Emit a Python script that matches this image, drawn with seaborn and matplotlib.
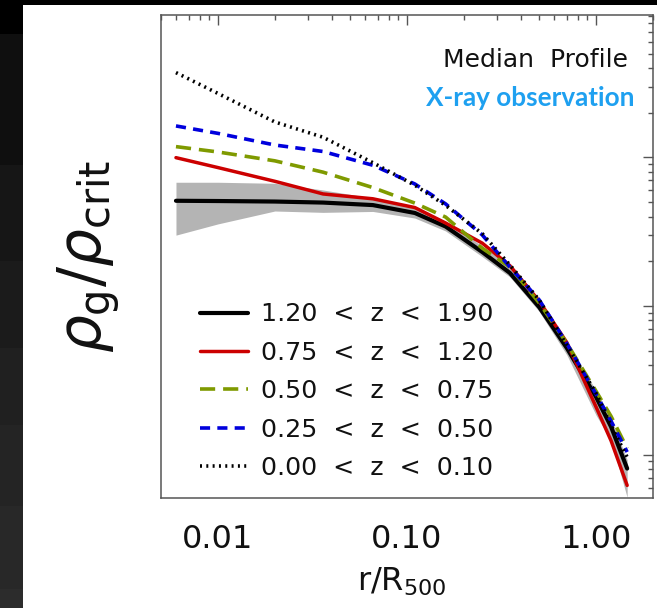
import matplotlib
matplotlib.use("Agg")
import matplotlib.pyplot as plt
import matplotlib.ticker as mticker
from matplotlib.lines import Line2D
from matplotlib.patches import Rectangle
import seaborn as sns

# radius in units of R500
r_r500 = [0.006, 0.01, 0.02, 0.036, 0.066, 0.11, 0.16, 0.25, 0.35, 0.5, 0.7, 1.0, 1.2, 1.46]

# median gas density profiles (rho_g / rho_crit) per redshift bin
rho_z120_190 = [511, 509, 505, 497, 478, 423, 343, 231, 167, 98.3, 52.2, 24.4, 15.4, 8.05]
rho_z075_120 = [997, 855, 691, 568, 527, 460, 362, 265, 187, 108, 56.9, 20.9, 12.4, 6.2]
rho_z050_075 = [1183, 1089, 949, 796, 627, 493, 397, 245, 183, 105, 56.2, 26.7, 18.1, 11.0]
rho_z025_050 = [1630, 1453, 1213, 1097, 886, 663, 487, 301, 183, 110, 56, 25.5, 16.8, 10.4]
rho_z000_010 = [3726, 2698, 1734, 1368, 922, 650, 476, 307, 189, 110, 54.6, 25.9, 15.7, 9.6]

# scatter band around the highest-z profile
band_low = [300, 357, 436, 427, 433, 391, 320, 215, 157, 92, 46.9, 18.4, 12.5, 5.15]
band_high = [681, 681, 670, 604, 533, 457, 373, 253, 186, 110, 57, 27, 17.6, 9.2]

labels = [
	"1.20  <  z  <  1.90",
	"0.75  <  z  <  1.20",
	"0.50  <  z  <  0.75",
	"0.25  <  z  <  0.50",
	"0.00  <  z  <  0.10",
]
series = [rho_z120_190, rho_z075_120, rho_z050_075, rho_z025_050, rho_z000_010]
colors = ["#000000", "#cc0000", "#7f9a00", "#0000dd", "#000000"]
styles = ["-", "-", (0, (4.2, 2.2)), (0, (2.8, 2.0)), (0, (0.55, 1.2))]
widths = [3.0, 2.5, 2.6, 2.6, 2.6]

W, H = 657, 608

sns.set_theme(style="white")
plt.rcParams["font.family"] = ["DejaVu Sans"]
plt.rcParams["mathtext.default"] = "regular"

fig = plt.figure(figsize=(W / 100, H / 100), dpi=100)
fig.patch.set_facecolor("white")

# slide background: dark strip on the left and a thin band on top
strip = [(0, 34, "#000000"), (34, 165, "#0f0f0f"), (165, 261, "#161616"), (261, 348, "#1b1b1b"),
	(348, 425, "#202020"), (425, 506, "#242424"), (506, 589, "#282828"), (589, 608, "#2c2c2c")]
for y0, y1, c in strip:
	fig.add_artist(Rectangle((0, 1 - y1 / H), 23 / W, (y1 - y0) / H, transform=fig.transFigure,
		facecolor=c, edgecolor="none", zorder=0))
fig.add_artist(Rectangle((0, 1 - 5 / H), 1, 5 / H, transform=fig.transFigure,
	facecolor="#000000", edgecolor="none", zorder=0))

ax = fig.add_axes([161 / W, 1 - 498 / H, 492 / W, 483 / H])
ax.set_facecolor("white")

ax.fill_between(r_r500, band_low, band_high, color="#b4b4b4", linewidth=0, zorder=1)

for vals, c, ls, lw in zip(series, colors, styles, widths):
	sns.lineplot(x=r_r500, y=vals, ax=ax, color=c, linestyle=ls, linewidth=lw,
		estimator=None, sort=False, zorder=3)

ax.set_xscale("log")
ax.set_yscale("log")
ax.set_xlim(0.005, 2.0)
ax.set_ylim(5.1, 9100)

ax.xaxis.set_major_locator(mticker.FixedLocator([0.01, 0.1, 1.0]))
ax.xaxis.set_major_formatter(mticker.FuncFormatter(lambda v, p: f"{v:.2f}"))
ax.xaxis.set_minor_locator(mticker.LogLocator(base=10, subs=range(2, 10), numticks=20))
ax.xaxis.set_minor_formatter(mticker.NullFormatter())
ax.yaxis.set_major_locator(mticker.FixedLocator([10, 100, 1000]))
ax.yaxis.set_minor_locator(mticker.LogLocator(base=10, subs=range(2, 10), numticks=20))
ax.yaxis.set_major_formatter(mticker.NullFormatter())
ax.yaxis.set_minor_formatter(mticker.NullFormatter())

ax.tick_params(which="both", direction="in", top=True, right=True, colors="#555555",
	labelcolor="#111111", width=1.0)
ax.tick_params(which="major", length=7.5, labelsize=23, pad=19)
ax.tick_params(which="minor", length=3.6)
for sp in ax.spines.values():
	sp.set_color("#555555")
	sp.set_linewidth(1.1)

ax.set_xlabel(r"$\mathregular{r/R_{500}}$", fontsize=23, color="#111111")
ax.xaxis.set_label_coords(0.49, -0.14)
ax.set_ylabel(r"$\mathit{\rho}_\mathregular{g}/\mathit{\rho}_\mathregular{crit}$", fontsize=43, color="#111111")
ax.yaxis.set_label_coords(-0.08, 0.5)

ax.text(0.949, 0.907, "Median  Profile", transform=ax.transAxes, ha="right", va="center",
	fontsize=18, color="#111111")
ax.text(0.963, 0.8275, "X-ray observation", transform=ax.transAxes, ha="right", va="center",
	fontsize=18.8, color="#1ea0f0", fontweight="bold", family=["Lato", "DejaVu Sans"])

handles = [Line2D([], [], color=c, linestyle=ls, linewidth=lw) for c, ls, lw in zip(colors, styles, widths)]
ax.legend(handles, labels, loc="lower left", bbox_to_anchor=(0.079, 0.037), frameon=False,
	fontsize=18.2, handlelength=1.9, handletextpad=0.5, labelspacing=0.57,
	borderpad=0, borderaxespad=0, labelcolor="#111111")

fig.savefig("out.png", dpi=100)
